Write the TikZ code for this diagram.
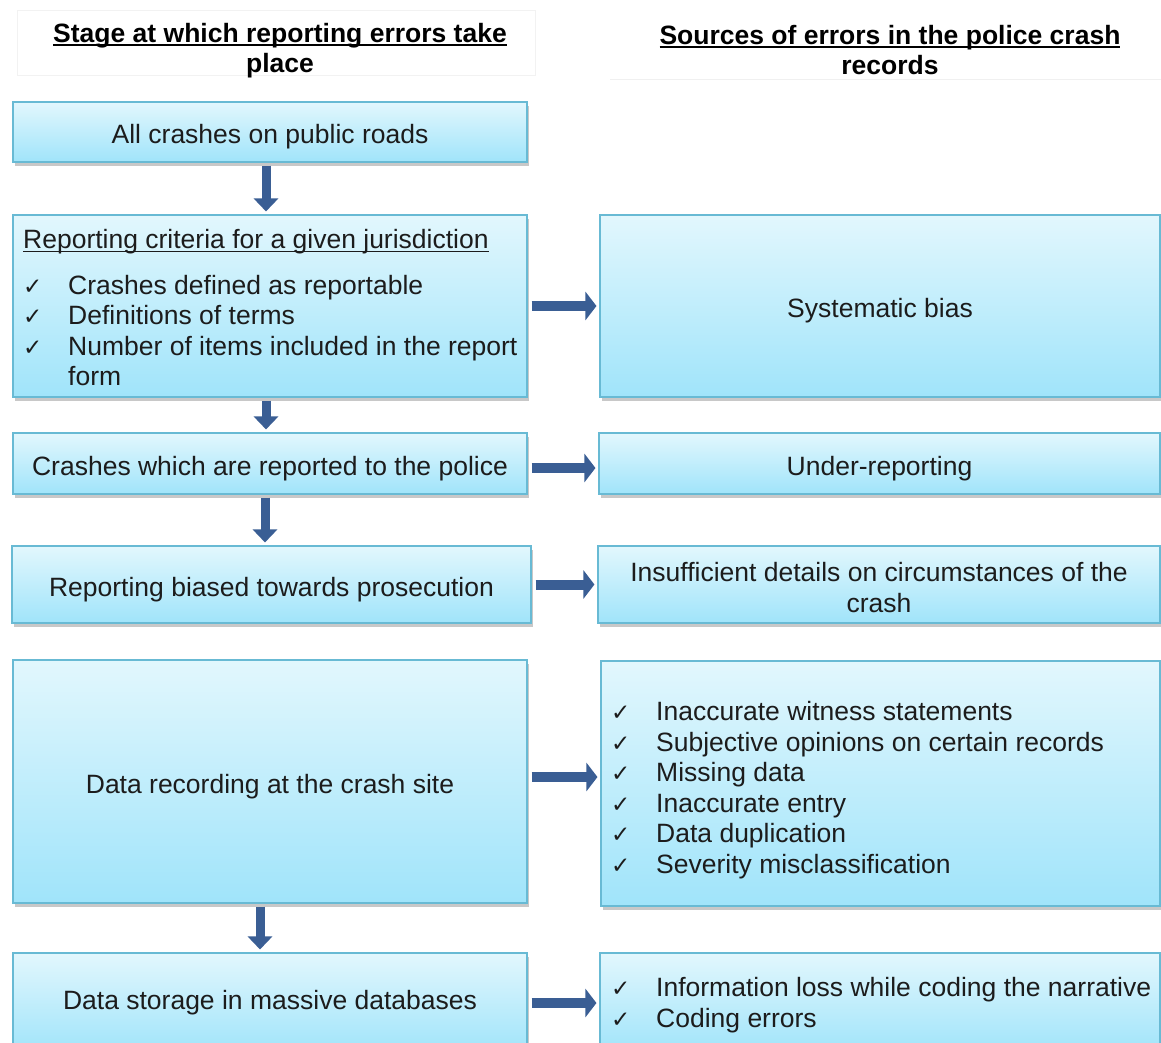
\documentclass[tikz,border=0pt]{standalone}
\usepackage{fontspec}
\setmainfont{Liberation Sans}
\newfontfamily\symfont{DejaVu Sans}
\usetikzlibrary{arrows.meta,shadows,calc}

\definecolor{boxtop}{RGB}{226,247,253}
\definecolor{boxbot}{RGB}{160,228,250}
\definecolor{boxline}{RGB}{104,186,212}
\definecolor{arrowblue}{RGB}{58,94,148}
\definecolor{txt}{RGB}{28,28,28}

% check mark followed by a fixed indent
\newcommand{\ckitem}{\makebox[45pt][l]{{\symfont\fontsize{23}{23}\selectfont ✓}}}
% underline with a chosen rule thickness, set just under the baseline
\newcommand{\ulbar}[2]{\setbox0\hbox{#2}\rlap{\rule[-3.5pt]{\wd0}{#1}}\box0}

\tikzset{
  stagebox/.style={draw=boxline, line width=1.1pt, top color=boxtop, bottom color=boxbot,
    drop shadow={shadow xshift=1.5pt, shadow yshift=-4pt, opacity=0.3, fill=black!70},
    inner sep=0pt, text=txt, align=center, font=\fontsize{26.5}{31}\selectfont},
  oneline/.style={text height=23.7pt, text depth=0pt},
  boxtext/.style={inner sep=0pt, text=txt, align=center, font=\fontsize{26.5}{31}\selectfont},
  listtext/.style={inner sep=0pt, text=txt, align=left, anchor=west, font=\fontsize{26.5}{30.5}\selectfont},
  headtext/.style={inner sep=0pt, text=black, align=center, font=\bfseries\fontsize{26.5}{30}\selectfont},
  downarrow/.style={draw=arrowblue, line width=9pt, shorten <=3pt, shorten >=3pt,
    -{Triangle[length=13pt, width=24pt]}},
  rightarrow/.style={draw=arrowblue, line width=10pt, shorten <=4pt, shorten >=3pt,
    -{Triangle[length=11pt, width=28pt]}}
}

\begin{document}
\begin{tikzpicture}[x=1pt, y=-1pt]
\useasboundingbox (0,0) rectangle (1161,1043);
\clip (0,0) rectangle (1161,1043);
\fill[white] (0,0) rectangle (1161,1043);

% column headings
\draw[black!5, line width=0.8pt] (17,10) rectangle (535,75);
\node[headtext] (headL) at (280,51)
  {\ulbar{2.2pt}{Stage at which reporting errors take}\\place};
\node[headtext] (headR) at (890,50)
  {\ulbar{2.2pt}{Sources of errors in the police crash}\\records};
\draw[black!6, line width=0.8pt] (610,79) -- (1161,79);

% left column: stages
\node[stagebox, oneline, minimum width=514pt, minimum height=60pt] (allcrash) at (270,132)
  {All crashes on public roads};
\node[stagebox, minimum width=514pt, minimum height=182pt] (criteria) at (270,306) {};
\node[listtext] (critlist) at (23,308)
  {\ulbar{1.3pt}{Reporting criteria for a given jurisdiction}\\[15pt]
   \ckitem Crashes defined as reportable\\
   \ckitem Definitions of terms\\
   \ckitem Number of items included in the report\\
   \hspace*{45pt}form};
\node[stagebox, oneline, minimum width=514pt, minimum height=61pt] (reported) at (270,463.5)
  {Crashes which are reported to the police};
\node[stagebox, oneline, minimum width=519pt, minimum height=77pt] (biased) at (271.5,584.5)
  {Reporting biased towards prosecution};
\node[stagebox, oneline, minimum width=514pt, minimum height=243pt] (recording) at (270,781.5)
  {Data recording at the crash site};
\node[stagebox, minimum width=514pt, minimum height=100pt] (storage) at (270,1003)
  {\raisebox{-3pt}{Data storage in massive databases}};

% right column: error sources
\node[stagebox, oneline, minimum width=560pt, minimum height=182pt] (bias) at (880,306)
  {Systematic bias};
\node[stagebox, oneline, minimum width=561pt, minimum height=61pt] (under) at (879.5,463.5)
  {Under-reporting};
\node[stagebox, minimum width=562pt, minimum height=77pt] (details) at (879,584.5) {};
\node[boxtext] (detailtext) at ([yshift=-3pt]details.center)
  {Insufficient details on circumstances of the\\crash};
\node[stagebox, minimum width=559pt, minimum height=245pt] (siteerr) at (880.5,783.5) {};
\node[listtext] (sitelist) at (611,790)
  {\ckitem Inaccurate witness statements\\
   \ckitem Subjective opinions on certain records\\
   \ckitem Missing data\\
   \ckitem Inaccurate entry\\
   \ckitem Data duplication\\
   \ckitem Severity misclassification};
\node[stagebox, minimum width=560pt, minimum height=100pt] (codeerr) at (880,1003) {};
\node[listtext] (codelist) at (611,1005)
  {\ckitem Information loss while coding the narrative\\
   \ckitem Coding errors};

% flow down the stages
\draw[downarrow] ([xshift=-4pt]allcrash.south) -- ([xshift=-4pt]criteria.north);
\draw[downarrow] ([xshift=-4pt]criteria.south) -- ([xshift=-4pt]reported.north);
\draw[downarrow] ([xshift=-5pt]reported.south) -- ([xshift=-6.5pt]biased.north);
\draw[downarrow] ([xshift=-10pt]recording.south) -- ([xshift=-10pt]storage.north);

% stage to error source
\draw[rightarrow] (criteria.east) -- (bias.west);
\draw[rightarrow] ([yshift=-4.5pt]reported.east) -- ([yshift=-4.5pt]under.west);
\draw[rightarrow] (biased.east) -- (details.west);
\draw[rightarrow] ([yshift=4.5pt]recording.east) -- ([yshift=6.5pt]siteerr.west);
\draw[rightarrow] (storage.east) -- (codeerr.west);
\end{tikzpicture}
\end{document}
